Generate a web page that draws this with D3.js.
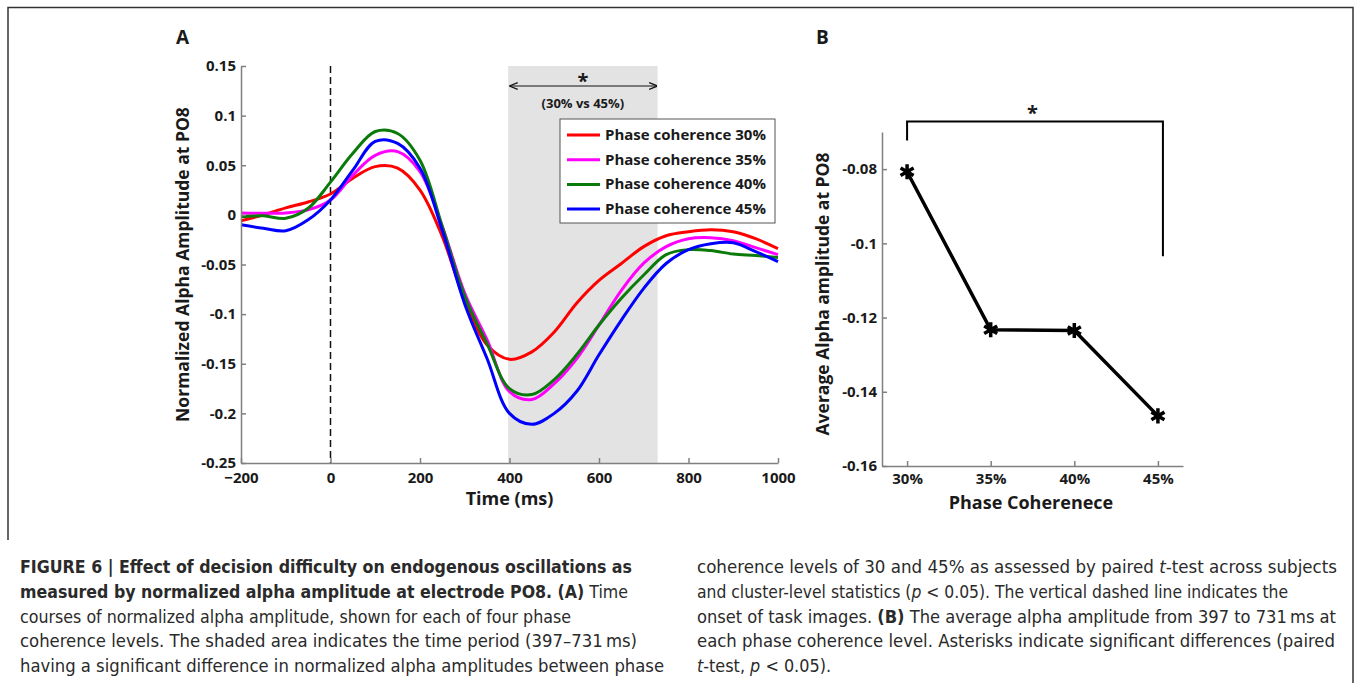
<!DOCTYPE html>
<html>
<head>
<meta charset="utf-8">
<script src="https://cdn.jsdelivr.net/npm/d3@7"></script>
<style>
    body { margin: 0; background: #fff; }
    svg { display: block; }
    .tick text { font-family: "Open Sans", sans-serif; font-weight: bold; font-size: 15px; fill: #1a1a1a; }
    .axis path, .axis line { stroke: #808080; stroke-width: 1.5; }
    .bold-label { font-family: "Open Sans", sans-serif; font-weight: bold; fill: #1a1a1a; }
    .caption { font-family: "Liberation Sans Narrow", "DejaVu Sans Condensed", sans-serif; font-size: 17px; fill: #2a2a2a; }
</style>
</head>
<body>
<div id="figure"></div>
<script>
// ---- data ----
const times = [-200, -150, -100, -50, 0, 50, 100, 150, 200, 250, 300, 350, 400, 450, 500, 550, 600, 650, 700, 750, 800, 850, 900, 950, 1000];

const coh30 = [-0.006, 0.000, 0.007, 0.013, 0.021, 0.037, 0.0486, 0.047, 0.025, -0.022, -0.086, -0.131, -0.1455, -0.138, -0.118, -0.089, -0.066, -0.049, -0.032, -0.021, -0.017, -0.015, -0.017, -0.024, -0.034];
const coh35 = [0.002, 0.0016, 0.002, 0.005, 0.015, 0.040, 0.060, 0.0637, 0.0435, -0.012, -0.079, -0.126, -0.178, -0.186, -0.170, -0.145, -0.111, -0.076, -0.0487, -0.032, -0.024, -0.023, -0.026, -0.033, -0.040];
const coh40 = [-0.002, -0.001, -0.0035, 0.0066, 0.033, 0.062, 0.084, 0.082, 0.055, -0.012, -0.082, -0.130, -0.175, -0.181, -0.166, -0.141, -0.111, -0.084, -0.0606, -0.040, -0.035, -0.036, -0.0395, -0.041, -0.043];
const coh45 = [-0.010, -0.0135, -0.016, -0.005, 0.015, 0.045, 0.074, 0.072, 0.047, -0.016, -0.090, -0.145, -0.200, -0.211, -0.200, -0.178, -0.141, -0.106, -0.074, -0.049, -0.035, -0.029, -0.028, -0.037, -0.047];

const seriesNames = ["Phase coherence 30%", "Phase coherence 35%", "Phase coherence 40%", "Phase coherence 45%"];
const seriesColors = ["#ff0000", "#ff00ff", "#0a7a0a", "#0000ff"];

const sigWindow = [397, 731];
const xTicksA = [-200, 0, 200, 400, 600, 800, 1000];
const yTicksA = [-0.25, -0.2, -0.15, -0.1, -0.05, 0, 0.05, 0.1, 0.15];

const levelsB = ["30%", "35%", "40%", "45%"];
const avgAmplitude = [-0.0807, -0.1233, -0.1235, -0.1465];
const yTicksB = [-0.16, -0.14, -0.12, -0.1, -0.08];

// caption lines; w = width of the printed line (0 = natural)
const captionLeft = [
    {w: 612, parts: [{t: "FIGURE 6 | Effect of decision difficulty on endogenous oscillations as", b: true}]},
    {w: 608, parts: [{t: "measured by normalized alpha amplitude at electrode PO8. (A)", b: true}, {t: " Time"}]},
    {w: 551, parts: [{t: "courses of normalized alpha amplitude, shown for each of four phase"}]},
    {w: 617, parts: [{t: "coherence levels. The shaded area indicates the time period (397–731\u2009ms)"}]},
    {w: 644, parts: [{t: "having a significant difference in normalized alpha amplitudes between phase"}]}
];
const captionRight = [
    {w: 640, parts: [{t: "coherence levels of 30 and 45% as assessed by paired "}, {t: "t", i: true}, {t: "-test across subjects"}]},
    {w: 591, parts: [{t: "and cluster-level statistics ("}, {t: "p", i: true}, {t: " < 0.05). The vertical dashed line indicates the"}]},
    {w: 639, parts: [{t: "onset of task images. "}, {t: "(B)", b: true}, {t: " The average alpha amplitude from 397 to 731\u2009ms at"}]},
    {w: 638, parts: [{t: "each phase coherence level. Asterisks indicate significant differences (paired"}]},
    {w: 134, parts: [{t: "t", i: true}, {t: "-test, "}, {t: "p", i: true}, {t: " < 0.05)."}]}
];

// ---- helpers ----
const W = 1355, H = 683;
const svg = d3.select("#figure").append("svg").attr("width", W).attr("height", H);

function numLabel(d) {
    return String(+d.toFixed(3));
}

function styleAxis(g) {
    g.attr("class", "axis");
    g.selectAll(".tick line").attr("stroke", "#808080");
}

function drawCaption(lines, x, y0, lineH) {
    lines.forEach((line, i) => {
        const txt = svg.append("text").attr("class", "caption").attr("x", x).attr("y", y0 + i * lineH);
        line.parts.forEach(p => {
            txt.append("tspan")
                .attr("font-weight", p.b ? "bold" : null)
                .attr("font-style", p.i ? "italic" : null)
                .text(p.t);
        });
        if (line.w) {
            txt.attr("textLength", line.w).attr("lengthAdjust", "spacingAndGlyphs");
        }
    });
}

// frame
svg.append("path")
    .attr("d", "M8,540 L8,7.5 L1353,7.5 L1353,683")
    .attr("fill", "none").attr("stroke", "#333").attr("stroke-width", 1.5);

// ---- panel A ----
const xA = d3.scaleLinear().domain([-200, 1000]).range([241, 778]);
const yA = d3.scaleLinear().domain([-0.25, 0.15]).range([463, 66]);

svg.append("rect")
    .attr("x", xA(sigWindow[0])).attr("y", yA(0.15))
    .attr("width", xA(sigWindow[1]) - xA(sigWindow[0]))
    .attr("height", yA(-0.25) - yA(0.15))
    .attr("fill", "#e3e3e3");

svg.append("line")
    .attr("x1", xA(0)).attr("x2", xA(0))
    .attr("y1", yA(0.15)).attr("y2", yA(-0.25))
    .attr("stroke", "#111").attr("stroke-width", 1.5).attr("stroke-dasharray", "7,4");

const lineA = d3.line().x((d, i) => xA(times[i])).y(d => yA(d)).curve(d3.curveCatmullRom);
[coh30, coh35, coh40, coh45].forEach((vals, k) => {
    svg.append("path").datum(vals)
        .attr("d", lineA)
        .attr("fill", "none")
        .attr("stroke", seriesColors[k])
        .attr("stroke-width", 3);
});

svg.append("g")
    .attr("transform", `translate(0,${yA(-0.25)})`)
    .call(d3.axisBottom(xA).tickValues(xTicksA).tickFormat(d3.format("d")).tickSizeInner(-5).tickSizeOuter(0).tickPadding(9))
    .call(styleAxis);

svg.append("g")
    .attr("transform", `translate(${xA(-200)},0)`)
    .call(d3.axisLeft(yA).tickValues(yTicksA).tickFormat(numLabel).tickSizeInner(-5).tickSizeOuter(0).tickPadding(5))
    .call(styleAxis);

// significance arrow
svg.append("defs").html(
    '<marker id="arr" viewBox="0 0 10 10" refX="9" refY="5" markerWidth="7" markerHeight="7" orient="auto-start-reverse">' +
    '<path d="M0,1 L10,5 L0,9" fill="none" stroke="#111" stroke-width="1.6"/></marker>');
svg.append("line")
    .attr("x1", xA(sigWindow[0]) + 2).attr("x2", xA(sigWindow[1]) - 1)
    .attr("y1", 86).attr("y2", 86)
    .attr("stroke", "#111").attr("stroke-width", 1.2)
    .attr("marker-start", "url(#arr)").attr("marker-end", "url(#arr)");
svg.append("text").attr("class", "bold-label")
    .attr("x", (xA(sigWindow[0]) + xA(sigWindow[1])) / 2).attr("y", 88)
    .attr("text-anchor", "middle").attr("font-size", 20).text("*");
svg.append("text").attr("class", "bold-label")
    .attr("x", (xA(sigWindow[0]) + xA(sigWindow[1])) / 2).attr("y", 108)
    .attr("text-anchor", "middle").attr("font-size", 13).text("(30% vs 45%)");

// legend
const legend = svg.append("g").attr("transform", "translate(560,119)");
legend.append("rect").attr("width", 215).attr("height", 104)
    .attr("fill", "#fff").attr("stroke", "#555").attr("stroke-width", 1);
seriesNames.forEach((name, k) => {
    const yy = 16 + k * 24.7;
    legend.append("line").attr("x1", 7).attr("x2", 40).attr("y1", yy).attr("y2", yy)
        .attr("stroke", seriesColors[k]).attr("stroke-width", 3);
    legend.append("text").attr("class", "bold-label")
        .attr("x", 45).attr("y", yy + 5).attr("font-size", 15).text(name);
});

svg.append("text").attr("class", "bold-label")
    .attr("transform", `translate(189,${(yA(0.15) + yA(-0.25)) / 2}) rotate(-90)`)
    .attr("text-anchor", "middle").attr("font-size", 17.5)
    .text("Normalized Alpha Amplitude at PO8");
svg.append("text").attr("class", "bold-label")
    .attr("x", (xA(-200) + xA(1000)) / 2).attr("y", 505)
    .attr("text-anchor", "middle").attr("font-size", 18).text("Time (ms)");

svg.append("text").attr("class", "bold-label")
    .attr("x", 176).attr("y", 44).attr("font-family", "Liberation Sans, Arial, sans-serif")
    .attr("font-size", 19).text("A");

// ---- panel B ----
const xB = d3.scaleLinear().domain([0.7, 4.3]).range([882, 1183]);
const yB = d3.scaleLinear().domain([-0.16, -0.07]).range([466, 132]);

svg.append("g")
    .attr("transform", `translate(0,${yB(-0.16)})`)
    .call(d3.axisBottom(xB).tickValues([1, 2, 3, 4]).tickFormat(i => levelsB[i - 1]).tickSizeInner(-5).tickSizeOuter(0).tickPadding(7))
    .call(styleAxis);

svg.append("g")
    .attr("transform", `translate(${xB(0.7)},0)`)
    .call(d3.axisLeft(yB).tickValues(yTicksB).tickFormat(numLabel).tickSizeInner(-5).tickSizeOuter(0).tickPadding(5))
    .call(styleAxis);

const lineB = d3.line().x((d, i) => xB(i + 1)).y(d => yB(d));
svg.append("path").datum(avgAmplitude)
    .attr("d", lineB).attr("fill", "none")
    .attr("stroke", "#000").attr("stroke-width", 3.5);

svg.selectAll(".star").data(avgAmplitude).join("path")
    .attr("class", "star")
    .attr("transform", (d, i) => `translate(${xB(i + 1)},${yB(d)})`)
    .attr("d", d3.symbol(d3.symbolAsterisk, 160))
    .attr("fill", "none").attr("stroke", "#000").attr("stroke-width", 3.5);

// bracket 30% vs 45%
svg.append("path")
    .attr("d", `M${xB(1)},${yB(-0.0723)} L${xB(1)},121.5 L${xB(4) + 5},121.5 L${xB(4) + 5},${yB(-0.1035)}`)
    .attr("fill", "none").attr("stroke", "#000").attr("stroke-width", 2);
svg.append("text").attr("class", "bold-label")
    .attr("x", (xB(1) + xB(4)) / 2).attr("y", 120)
    .attr("text-anchor", "middle").attr("font-size", 20).text("*");

svg.append("text").attr("class", "bold-label")
    .attr("transform", `translate(829,${(yB(-0.07) + yB(-0.16)) / 2 - 5}) rotate(-90)`)
    .attr("text-anchor", "middle").attr("font-size", 17.5)
    .text("Average Alpha amplitude at PO8");
svg.append("text").attr("class", "bold-label")
    .attr("x", 1031).attr("y", 509)
    .attr("text-anchor", "middle").attr("font-size", 18).text("Phase Coherenece");

svg.append("text").attr("class", "bold-label")
    .attr("x", 816).attr("y", 44).attr("font-family", "Liberation Sans, Arial, sans-serif")
    .attr("font-size", 19).text("B");

// ---- caption ----
drawCaption(captionLeft, 20, 573, 24.8);
drawCaption(captionRight, 697, 573, 24.8);
</script>
</body>
</html>
